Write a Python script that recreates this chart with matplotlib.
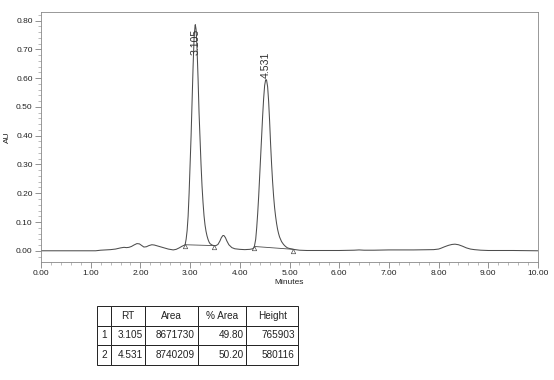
import matplotlib
matplotlib.use("Agg")
import matplotlib.pyplot as plt
from matplotlib.ticker import MultipleLocator, FormatStrFormatter

plt.rcParams['font.family'] = ['Liberation Sans', 'DejaVu Sans']

# Chromatogram trace (minutes, AU)
time_min = [0.00, 0.50, 1.00, 1.10, 1.15, 1.20, 1.30, 1.40, 1.50, 1.60, 1.67, 1.72, 1.77,
            1.82, 1.87, 1.93, 1.98, 2.03, 2.07, 2.12, 2.17, 2.23, 2.28, 2.34, 2.40, 2.48,
            2.56, 2.62, 2.66, 2.72, 2.78, 2.84, 2.88, 2.90,
            2.92, 2.94, 2.96, 2.98, 3.00, 3.02, 3.04, 3.06, 3.08, 3.10, 3.105, 3.12,
            3.14, 3.16, 3.18, 3.20, 3.22, 3.24, 3.26, 3.28, 3.30, 3.32, 3.34, 3.36,
            3.38, 3.40, 3.44, 3.48,
            3.52, 3.56, 3.60, 3.63, 3.66, 3.68, 3.71, 3.74, 3.78, 3.84, 3.90, 4.00,
            4.10, 4.20, 4.26, 4.29,
            4.32, 4.34, 4.36, 4.38, 4.40, 4.42, 4.44, 4.46, 4.48, 4.50, 4.52, 4.531,
            4.54, 4.56, 4.58, 4.60, 4.62, 4.64, 4.66, 4.68, 4.70, 4.72, 4.74, 4.76,
            4.78, 4.80, 4.84, 4.88, 4.92, 4.96, 5.00, 5.08,
            5.20, 5.35, 5.60, 6.00, 6.30, 6.40, 6.50, 6.70, 7.00, 7.50, 7.90, 8.00,
            8.05, 8.12, 8.20, 8.27, 8.33, 8.40, 8.48, 8.56, 8.64, 8.72, 8.85, 9.00,
            9.50, 10.00]
absorbance = [0.000, 0.000, 0.000, 0.000, 0.001, 0.002, 0.003, 0.004, 0.006, 0.010, 0.012, 0.011, 0.012,
              0.015, 0.020, 0.025, 0.024, 0.018, 0.013, 0.014, 0.018, 0.021, 0.020, 0.017, 0.014, 0.010,
              0.006, 0.004, 0.003, 0.005, 0.010, 0.016, 0.019, 0.021,
              0.040, 0.070, 0.120, 0.200, 0.300, 0.400, 0.520, 0.640, 0.740, 0.783, 0.786, 0.770,
              0.700, 0.600, 0.480, 0.390, 0.300, 0.225, 0.168, 0.122, 0.090, 0.068, 0.052, 0.040,
              0.031, 0.025, 0.020, 0.018,
              0.018, 0.022, 0.034, 0.046, 0.053, 0.053, 0.046, 0.034, 0.021, 0.011, 0.007, 0.005,
              0.004, 0.005, 0.007, 0.012,
              0.040, 0.080, 0.130, 0.190, 0.260, 0.330, 0.400, 0.470, 0.530, 0.575, 0.594, 0.595,
              0.592, 0.570, 0.520, 0.450, 0.370, 0.300, 0.240, 0.190, 0.150, 0.120, 0.095, 0.075,
              0.060, 0.048, 0.032, 0.022, 0.015, 0.010, 0.008, 0.005,
              0.002, 0.001, 0.001, 0.001, 0.002, 0.003, 0.002, 0.002, 0.003, 0.003, 0.004, 0.006,
              0.009, 0.014, 0.019, 0.022, 0.023, 0.021, 0.016, 0.010, 0.006, 0.004, 0.002, 0.001,
              0.001, 0.000]

# Integration baselines (start/end points of each peak)
base_t = [[2.90, 3.48], [4.29, 5.08]]
base_y = [[0.021, 0.018], [0.015, 0.005]]

peak_rt = [3.105, 4.531]
peak_label_y = [0.772, 0.602]
peak_label_va = ['top', 'bottom']

# Peak table
col_labels = ['', 'RT', 'Area', '% Area', 'Height']
row_ids = ['1', '2']
rt_vals = ['3.105', '4.531']
area_vals = ['8671730', '8740209']
pct_area = ['49.80', '50.20']
heights = ['765903', '580116']

fig = plt.figure(figsize=(5.54, 3.80), dpi=100)
ax = fig.add_axes([41/554, 1 - 262/380, 497/554, (262 - 12.3)/380])

line_col = '#4d4d4d'
ax.plot(time_min, absorbance, color=line_col, lw=0.75)
for bt, by in zip(base_t, base_y):
    ax.plot(bt, by, color=line_col, lw=0.6)
    ax.plot(bt, [v - 0.006 for v in by], linestyle='none', marker='^', ms=3.2,
            mfc='none', mec=line_col, mew=0.5)

for rt, ly, va in zip(peak_rt, peak_label_y, peak_label_va):
    ax.text(rt, ly, f'{rt:.3f}', rotation=90, ha='center', va=va, fontsize=7.6,
            color='#333333')

ax.set_xlim(0, 10)
ax.set_ylim(-0.039, 0.829)
ax.xaxis.set_major_locator(MultipleLocator(1.0))
ax.xaxis.set_minor_locator(MultipleLocator(0.2))
ax.yaxis.set_major_locator(MultipleLocator(0.1))
ax.yaxis.set_minor_locator(MultipleLocator(0.02))
ax.xaxis.set_major_formatter(FormatStrFormatter('%.2f'))
ax.yaxis.set_major_formatter(FormatStrFormatter('%.2f'))
ax.tick_params(which='major', direction='out', length=4, width=0.5, labelsize=6,
               color='#666666', labelcolor='#222222', pad=2)
ax.tick_params(which='minor', direction='out', length=2, width=0.4, color='#888888')
for s in ax.spines.values():
    s.set_linewidth(0.6)
    s.set_color('#888888')
ax.set_xlabel('Minutes', fontsize=6, labelpad=1, color='#222222')
ax.set_ylabel('AU', fontsize=6, labelpad=4, color='#222222')

# Table
tax = fig.add_axes([97/554, 1 - 365/380, (298 - 97)/554, (365 - 306)/380])
tax.axis('off')
cells = [[r, a, b, c, d] for r, a, b, c, d in zip(row_ids, rt_vals, area_vals, pct_area, heights)]
widths = [14.4, 33.3, 53.3, 48.4, 51.6]
tot = sum(widths)
tbl = tax.table(cellText=cells, colLabels=col_labels, cellLoc='right', colLoc='center',
                colWidths=[w / tot for w in widths], bbox=[0, 0, 1, 1])
tbl.auto_set_font_size(False)
tbl.set_fontsize(7.2)
for (r, c), cell in tbl.get_celld().items():
    cell.set_linewidth(0.7)
    cell.set_edgecolor('#222222')
    cell.PAD = 0.06
    if c == 0:
        cell._loc = 'center'
        cell.get_text().set_ha('center')
    cell.get_text().set_color('#222222')

fig.savefig('out.png', dpi=100)
